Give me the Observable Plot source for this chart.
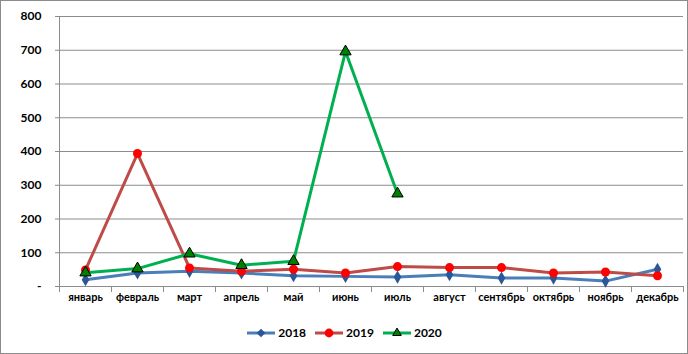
<!DOCTYPE html>
<html><head><meta charset="utf-8">
<script src="https://cdn.jsdelivr.net/npm/d3@7"></script>
<script src="https://cdn.jsdelivr.net/npm/@observablehq/plot@0.6"></script>
<style>
body{margin:0;background:#fff;}
#wrap{width:688px;height:354px;box-sizing:border-box;border:1px solid #8c8c8c;background:#fff;position:relative;font-family:Lato,"Open Sans",sans-serif;}
#legend{position:absolute;left:0;right:0;top:324px;display:flex;justify-content:center;gap:8px;font:bold 12px Lato,sans-serif;color:#000;}
#legend .it{display:flex;align-items:center;gap:2px;}
</style></head>
<body><div id="wrap"><div id="chart"></div><div id="legend"></div></div>
<script>
const months = ["январь","февраль","март","апрель","май","июнь","июль","август","сентябрь","октябрь","ноябрь","декабрь"];
const v2018 = [20,40,45,40,32,30,28,35,25,25,16,51];
const v2019 = [49,394,55,45,51,40,59,56,56,40,43,32];
const v2020 = [41,53,97,63,75,696,275];
const yTicks = [0,100,200,300,400,500,600,700,800];
const series = [
  {name:"2018", values:v2018, line:"#4A7EBB", fill:"#2B5797", stroke:"none", symbol:"diamond", r:4},
  {name:"2019", values:v2019, line:"#BE4B48", fill:"#FF0000", stroke:"none", symbol:"circle", r:4.5},
  {name:"2020", values:v2020, line:"#00B050", fill:"#008000", stroke:"#000", symbol:"triangle", r:4.2}
];
const rows = series.flatMap(s => s.values.map((v,i)=>({series:s.name, i, v})));
const bounds = d3.range(months.length+1).map(i=>i-0.5);
const marks = [
  Plot.ruleY(yTicks, {stroke:"#8c8c8c", strokeWidth:1, strokeOpacity:1}),
  Plot.ruleX([-0.5], {stroke:"#8c8c8c", strokeOpacity:1}),
  Plot.axisX({ticks:bounds, tickSize:6, tickFormat:()=>"", stroke:"#8c8c8c", strokeOpacity:1, label:null}),
  Plot.axisY({ticks:yTicks, tickSize:4, tickPadding:14, stroke:"#8c8c8c", strokeOpacity:1, label:null,
    tickFormat:d=> d===0 ? "-" : d, fontSize:12, fontWeight:"bold", fill:"#000"}),
  Plot.axisX({ticks:d3.range(months.length), tickSize:0, tickPadding:7, label:null,
    tickFormat:i=>months[i], fontSize:11, fontWeight:"bold", fill:"#000"}),
];
for (const s of series) {
  const data = rows.filter(r=>r.series===s.name);
  marks.push(Plot.line(data, {x:"i", y:"v", stroke:s.line, strokeWidth:3}));
}
for (const s of series) {
  const data = rows.filter(r=>r.series===s.name);
  marks.push(Plot.dot(data, {x:"i", y:"v", symbol:()=>s.symbol, r:s.r, fill:s.fill, stroke:s.stroke, strokeWidth:1}));
}
const chart = Plot.plot({
  width:686, height:306,
  marginTop:15, marginBottom:21, marginLeft:58, marginRight:4,
  style:{fontFamily:"Lato, 'Open Sans', sans-serif", color:"#000", background:"#fff"},
  x:{domain:[-0.5, months.length-0.5]},
  y:{domain:[0,800]},
  symbol:{type:"identity"},
  marks
});
document.getElementById("chart").appendChild(chart);
// legend
const leg = document.getElementById("legend");
for (const s of series) {
  const it = document.createElement("div"); it.className="it";
  const sv = d3.create("svg").attr("width",30).attr("height",14);
  sv.append("line").attr("x1",1).attr("x2",29).attr("y1",7).attr("y2",7).attr("stroke",s.line).attr("stroke-width",3);
  const sym = {diamond:d3.symbolDiamond2, circle:d3.symbolCircle, triangle:d3.symbolTriangle2}[s.symbol];
  sv.append("path").attr("transform","translate(15,7)").attr("d", d3.symbol(sym, s.r*s.r*3)())
    .attr("fill",s.fill).attr("stroke",s.stroke==="none"?null:s.stroke);
  it.appendChild(sv.node());
  const t = document.createElement("span"); t.textContent=s.name; it.appendChild(t);
  leg.appendChild(it);
}
</script></body></html>
